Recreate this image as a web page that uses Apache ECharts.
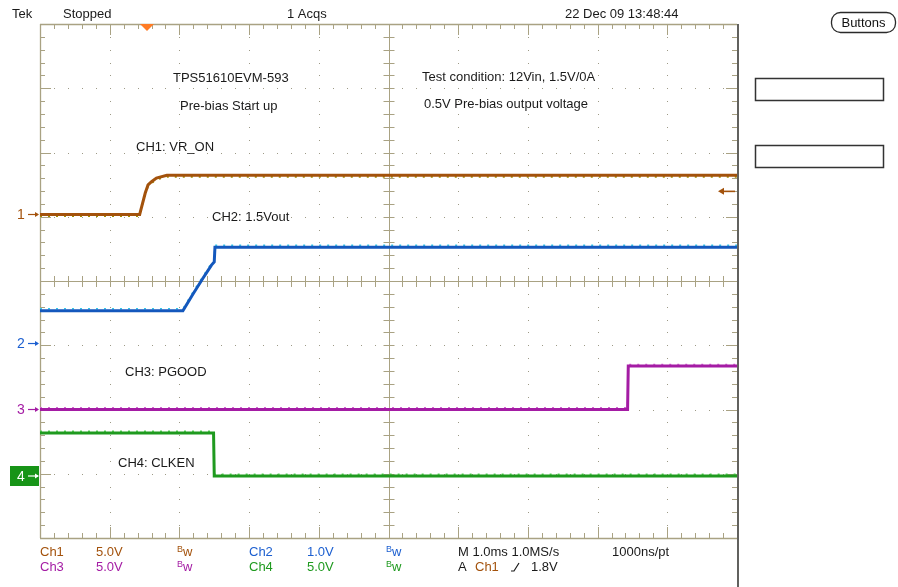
<!DOCTYPE html>
<html><head><meta charset="utf-8">
<script src="https://cdn.jsdelivr.net/npm/echarts@6/dist/echarts.min.js"></script>
<style>html,body{margin:0;padding:0;background:#fff}#c{width:898px;height:587px}</style>
</head><body><div id="c"></div>
<script>
// ---- Data (time in ms from left edge of screen, voltage in V) ----
const ch1Time  = [0, 1.43, 1.51, 1.55, 1.60, 1.67, 1.82, 10];
const ch1Volts = [0, 0, 1.67, 2.30, 2.55, 2.84, 3.05, 3.05];
const ch2Time  = [0, 2.05, 2.20, 2.34, 2.46, 2.50, 2.51, 10];
const ch2Volts = [0.51, 0.51, 0.78, 1.02, 1.22, 1.27, 1.50, 1.50];
const ch3Time  = [0, 8.43, 8.44, 10];
const ch3Volts = [0, 0, 3.38, 3.38];
const ch4Time  = [0, 2.49, 2.50, 10];
const ch4Volts = [3.35, 3.35, 0, 0];
// channel settings: volts per division and ground offset (divisions from centre)
const voltsPerDiv = [5.0, 1.0, 5.0, 5.0];
const groundDiv   = [1.035, -0.973, -2.0, -3.035];
const triggerLevel = 1.8;   // V on Ch1
const triggerTime  = 1.535; // ms from left edge
const channelNames = ['CH1: VR_ON', 'CH2: 1.5Vout', 'CH3: PGOOD', 'CH4: CLKEN'];

const FONT = '"Liberation Sans", Arial, sans-serif';
const colors  = ['#a3520c', '#1458bd', '#a41ca4', '#1f9a1f'];
const speckle = ['#a09000', '#33c8ea', '#d36ad3', '#5ad25a'];
const speckleShift = [-0.025, 0.03, 0.025, 0.025];

function toDiv(times, volts, ch, shift) {
  return times.map((t, i) => [t, groundDiv[ch] + volts[i] / voltsPerDiv[ch] + (shift || 0)]);
}
const chans = [[ch1Time, ch1Volts], [ch2Time, ch2Volts], [ch3Time, ch3Volts], [ch4Time, ch4Volts]];

function renderGrid(params, api) {
  const p = (x, y) => api.coord([x, y]);
  const ch = [];
  const tan = '#a9a283';
  const r = v => Math.round(v) + 0.5;
  const ln = (x1, y1, x2, y2, c, w) => ch.push({type: 'line', shape: {x1, y1, x2, y2}, style: {stroke: c, lineWidth: w || 1}});
  const dot = (x, y) => ch.push({type: 'rect', shape: {x: Math.round(x), y: Math.round(y), width: 1, height: 1}, style: {fill: '#9d9a86'}});
  const [L, T] = p(0, 4); const [R, B] = p(10, -4); const [cx, cy] = p(5, 0);
  // dotted division lines
  for (let i = 1; i < 10; i++) { if (i === 5) continue; const x = p(i, 0)[0];
    for (let k = 1; k < 40; k++) dot(x, p(0, -4 + k * 0.2)[1]); }
  for (let j = -3; j <= 3; j++) { if (j === 0) continue; const y = p(0, j)[1];
    for (let k = 1; k < 50; k++) dot(p(k * 0.2, 0)[0], y); }
  // centre lines with ticks
  ln(L, r(cy), R, r(cy), tan, 1); ln(r(cx), T, r(cx), B, tan, 1);
  for (let k = 1; k < 50; k++) { const x = r(p(k * 0.2, 0)[0]); ln(x, cy - 5, x, cy + 6, tan, 1); }
  for (let k = 1; k < 40; k++) { const y = r(p(0, -4 + k * 0.2)[1]); ln(cx - 5, y, cx + 6, y, tan, 1); }
  // frame
  ln(L, r(T), R, r(T), tan, 1.3); ln(r(L), T, r(L), B, tan, 1.3); ln(L, r(B), R, r(B), tan, 1.3);
  for (let k = 1; k < 50; k++) { const x = r(p(k * 0.2, 0)[0]); const len = k % 5 === 0 ? 11 : 5;
    ln(x, T, x, T + len, tan, 1); ln(x, B, x, B - len, tan, 1); }
  for (let k = 1; k < 40; k++) { const y = r(p(0, -4 + k * 0.2)[1]); const len = k % 5 === 0 ? 11 : 5;
    ln(L, y, L + len, y, tan, 1); ln(R, y, R - len, y, tan, 1); }
  return {type: 'group', children: ch};
}

const series = [{type: 'custom', renderItem: renderGrid, data: [[0, 0]], clip: false, silent: true, z: 1}];
chans.forEach((c, i) => {
  series.push({type: 'line', data: toDiv(c[0], c[1], i, speckleShift[i]), showSymbol: false, symbol: 'none', silent: true, z: 2,
    lineStyle: {color: speckle[i], width: 1.6, type: [2, 6]}});
  series.push({type: 'line', data: toDiv(c[0], c[1], i), showSymbol: false, symbol: 'none', silent: true, z: 3,
    lineStyle: {color: colors[i], width: 3, join: 'miter'}});
});

const chart = echarts.init(document.getElementById('c'), null, {renderer: 'canvas'});
chart.setOption({
  animation: false,
  backgroundColor: '#ffffff',
  grid: {left: 40, top: 24, right: 161, bottom: 49},
  xAxis: {type: 'value', min: 0, max: 10, show: false},
  yAxis: {type: 'value', min: -4, max: 4, show: false},
  series: series
});

const px = (t, d) => chart.convertToPixel({gridIndex: 0}, [t, d]);
const txt = (text, x, y, fill, size, extra) => Object.assign({type: 'text', x, y, silent: true, z: 10,
  style: {text, fill: fill || '#1a1a1a', fontSize: size || 13, fontFamily: FONT, align: 'left', verticalAlign: 'middle'}}, extra || {});
const g = [];
// top status
g.push(txt('Tek', 12, 14)); g.push(txt('Stopped', 63, 14)); g.push(txt('1 Acqs', 287, 14)); g.push(txt('22 Dec 09 13:48:44', 565, 14));
// trigger position marker
const tp = px(triggerTime, 4);
g.push({type: 'polygon', shape: {points: [[tp[0] - 7, tp[1]], [tp[0] + 7, tp[1]], [tp[0], tp[1] + 7]]}, style: {fill: '#ff7b24'}, z: 11});
// right frame dark line
const rb = px(10, 4);
g.push({type: 'line', shape: {x1: Math.round(rb[0]) + 1, y1: rb[1], x2: Math.round(rb[0]) + 1, y2: 587}, style: {stroke: '#3a3a36', lineWidth: 1.6}, z: 12});
// trigger level arrow
const tl = px(10, groundDiv[0] + triggerLevel / voltsPerDiv[0]);
g.push({type: 'line', shape: {x1: tl[0] - 16, y1: tl[1], x2: tl[0] - 2, y2: tl[1]}, style: {stroke: colors[0], lineWidth: 1.6}, z: 11});
g.push({type: 'polygon', shape: {points: [[tl[0] - 19, tl[1]], [tl[0] - 13, tl[1] - 3.5], [tl[0] - 13, tl[1] + 3.5]]}, style: {fill: colors[0]}, z: 11});
// channel ground markers
const markColors = [colors[0], '#1c5fd0', colors[2], '#ffffff'];
groundDiv.forEach((d, i) => {
  const p = px(0, d); const y = p[1];
  if (i === 3) g.push({type: 'rect', shape: {x: 10, y: y - 10, width: 29, height: 20}, style: {fill: '#179417'}, z: 10});
  g.push(txt(String(i + 1), 17, y + 1, markColors[i], 14));
  g.push({type: 'line', shape: {x1: 28, y1: y, x2: 38, y2: y}, style: {stroke: markColors[i], lineWidth: 1.2}, z: 11});
  g.push({type: 'polygon', shape: {points: [[39, y], [35, y - 2.5], [35, y + 2.5]]}, style: {fill: markColors[i]}, z: 11});
});
// annotations
g.push(txt('TPS51610EVM-593', 173, 78)); g.push(txt('Pre-bias Start up', 180, 106));
g.push(txt(channelNames[0], 136, 147)); g.push(txt(channelNames[1], 212, 217));
g.push(txt(channelNames[2], 125, 372)); g.push(txt(channelNames[3], 118, 463));
g.push(txt('Test condition: 12Vin, 1.5V/0A', 422, 77)); g.push(txt('0.5V Pre-bias output voltage', 424, 104));
// right panel
g.push({type: 'rect', shape: {x: 831.5, y: 12.5, width: 64, height: 20, r: 9}, style: {fill: '#fff', stroke: '#2a2a2a', lineWidth: 1.3}, z: 10});
g.push(txt('Buttons', 863.5, 23, '#111', 13, {style: {text: 'Buttons', fill: '#111', fontSize: 13, fontFamily: FONT, align: 'center', verticalAlign: 'middle'}}));
g.push({type: 'rect', shape: {x: 755.5, y: 78.5, width: 128, height: 22}, style: {fill: '#fff', stroke: '#333', lineWidth: 1.5}, z: 10});
g.push({type: 'rect', shape: {x: 755.5, y: 145.5, width: 128, height: 22}, style: {fill: '#fff', stroke: '#333', lineWidth: 1.5}, z: 10});
// bottom status
const bw = (x, y, c) => ({type: 'text', x, y, z: 10, silent: true, style: {text: '{b|B}{w|w}', fill: c, fontFamily: FONT, verticalAlign: 'middle',
  rich: {b: {fontSize: 9, fill: c, fontFamily: FONT, verticalAlign: 'top', padding: [0, 0, 3, 0]}, w: {fontSize: 13, fill: c, fontFamily: FONT}}}});
const r1 = 552, r2 = 567;
g.push(txt('Ch1', 40, r1, colors[0])); g.push(txt('5.0V', 96, r1, colors[0])); g.push(bw(177, r1, colors[0]));
g.push(txt('Ch2', 249, r1, '#1c5fd0')); g.push(txt('1.0V', 307, r1, '#1c5fd0')); g.push(bw(386, r1, '#1c5fd0'));
g.push(txt('M 1.0ms 1.0MS/s', 458, r1)); g.push(txt('1000ns/pt', 612, r1));
g.push(txt('Ch3', 40, r2, colors[2])); g.push(txt('5.0V', 96, r2, colors[2])); g.push(bw(177, r2, colors[2]));
g.push(txt('Ch4', 249, r2, colors[3])); g.push(txt('5.0V', 307, r2, colors[3])); g.push(bw(386, r2, colors[3]));
g.push(txt('A', 458, r2)); g.push(txt('Ch1', 475, r2, colors[0]));
g.push({type: 'polyline', shape: {points: [[511, 571], [514, 571], [519, 563]]}, style: {stroke: '#1a1a1a', lineWidth: 1.2, fill: null}, z: 10});
g.push(txt('1.8V', 531, r2));
chart.setOption({graphic: g});
</script></body></html>
